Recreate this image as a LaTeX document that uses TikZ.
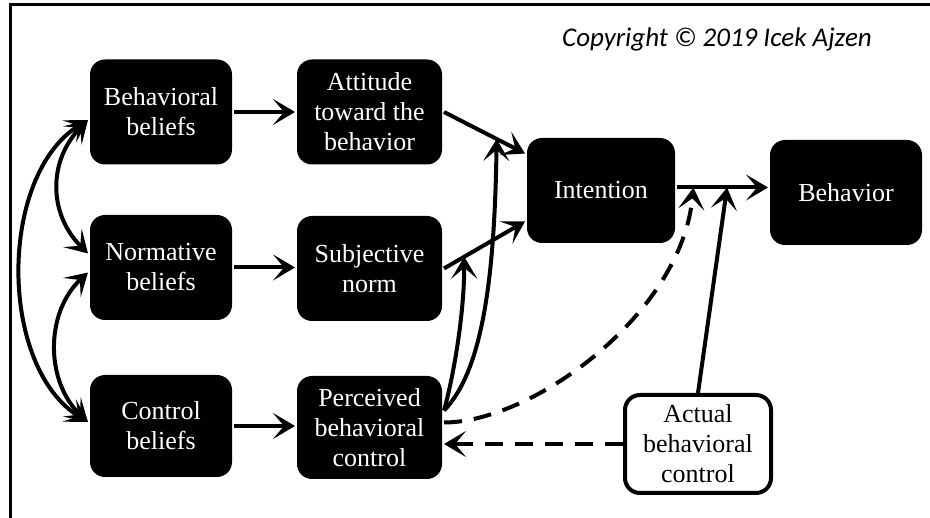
\documentclass[tikz,border=0pt]{standalone}
\usepackage{fontspec}
\setmainfont{Liberation Serif}
\newfontfamily\copyfont{Carlito}
\usetikzlibrary{arrows.meta}

\begin{document}
\begin{tikzpicture}[x=1pt, y=-1pt, line width=4pt,
    >={Stealth[length=22pt,width=26pt,inset=11pt]},
    box/.style={fill=black, text=white, rounded corners=15pt, minimum width=142pt,
        minimum height=105pt, align=center, inner sep=2pt, font=\fontsize{26}{30}\selectfont},
    abox/.style={box, fill=white, text=black, draw=black},
    dsh/.style={dash pattern=on 18pt off 12pt}]
    \useasboundingbox (0,0) rectangle (930,518);
    \draw[line width=3pt] (10,518) -- (10,5) -- (930,5);

    \node[font=\copyfont\itshape\fontsize{27}{30}\selectfont, anchor=base] (copy) at (717,47) {Copyright \textcopyright{} 2019 Icek Ajzen};

    \node[box] (bb) at (161,112) {Behavioral\\beliefs};
    \node[box, minimum width=145pt] (att) at (369.5,112) {Attitude\\toward the\\behavior};
    \node[box] (nb) at (161,267.5) {Normative\\beliefs};
    \node[box, minimum width=145pt] (sn) at (369.5,268.5) {Subjective\\norm};
    \node[box, minimum height=102pt] (cb) at (161,426) {Control\\beliefs};
    \node[box, minimum width=145pt, minimum height=103pt] (pbc) at (369.5,427.5) {Perceived\\behavioral\\control};
    \node[box, minimum width=148pt] (int) at (601,190.5) {Intention};
    \node[box, minimum width=152pt] (beh) at (846,192.5) {Behavior};
    \node[abox, minimum width=146pt, minimum height=98pt] (abc) at (698,444) {Actual\\behavioral\\control};

    \draw[->] (bb.east) -- (att.west);
    \draw[->] (nb.east) -- (nb.east -| sn.west);
    \draw[->] (cb.east) -- (cb.east -| pbc.west);
    \draw[->] (att.east) -- coordinate[pos=0.65] (m1) ([yshift=37pt]int.west);
    \draw[->] (sn.east) -- coordinate[pos=0.25] (m2) ([yshift=-31pt]int.west);
    \draw[->] ([yshift=3pt]int.east) -- coordinate[pos=0.18] (m3) coordinate[pos=0.55] (m4) ([yshift=3pt]int.east -| beh.west);

    \draw[->] ([yshift=17pt]pbc.east) .. controls +(11,-40) and +(0,53) .. (m2);
    \draw[->] ([yshift=17pt]pbc.east) .. controls +(39,-40) and +(-2,137) .. (m1);
    \draw[->, dsh] ([yshift=5pt]pbc.east) .. controls +(88,0) and +(-12,127) .. (m3);
    \draw[->, dsh] (abc.west) -- (abc.west -| pbc.east);
    \draw[->] (abc.north) -- (m4);

    \draw[<->] ([yshift=-8pt]bb.west) .. controls +(-40,40) and +(-40,-40) .. ([yshift=14pt]nb.west);
    \draw[<->] ([yshift=-5pt]nb.west) .. controls +(-43,40) and +(-43,-40) .. ([yshift=4pt]cb.west);
    \draw[<->] ([yshift=-8pt]bb.west) .. controls +(-90,55) and +(-90,-55) .. ([yshift=4pt]cb.west);
\end{tikzpicture}
\end{document}
